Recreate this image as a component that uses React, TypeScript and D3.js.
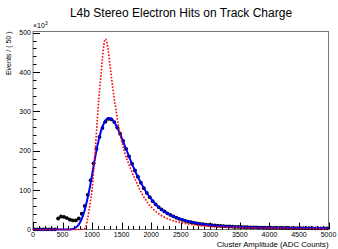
import React, { useRef, useEffect } from 'react';
import * as d3 from 'd3';

// histogram: 100 bins of 50 ADC counts, values in thousands of events
const binWidth = 50;
const counts = [
  0.5, 0.5, 0.5, 0.5, 0.5, 0.5, 0.5, 0.5,
  28, 33, 32, 29, 25, 23, 23, 28, 40, 60, 88, 125, 168, 205, 235, 258, 274, 281, 280, 273,
  259, 243, 225, 205, 186, 167, 150, 134, 119, 105, 93, 82, 72, 64, 57, 51, 46, 41, 37, 33.5,
  30, 27, 24.5, 22, 20, 18.5, 17, 15.5, 14.5, 13.5, 12.5, 11.5, 10.8, 10.1, 9.5, 9, 8.5, 8,
  7.6, 7.2, 6.9, 6.6, 6.3, 6, 5.8, 5.6, 5.4, 5.2, 5, 4.8, 4.7, 4.5, 4.4, 4.3, 4.2, 4.1,
  4, 3.9, 3.8, 3.7, 3.6, 3.5, 3.5, 3.4, 3.3, 3.3, 3.2, 3.1, 3.1, 3, 3, 2.9,
];

// blue fit (landau x gauss)
const fitX = [0, 600, 650, 700, 750, 800, 850, 900, 950, 1000, 1050, 1100, 1150, 1200, 1250, 1300, 1350, 1400, 1450, 1500, 1550, 1600, 1650, 1700, 1750, 1800, 1900, 2000, 2100, 2200, 2300, 2400, 2500, 2600, 2800, 3000, 3250, 3500, 4000, 4500, 5000];
const fitY = [0, 0, 0.5, 3, 8, 19, 37, 64, 98, 139, 182, 220, 250, 270, 281, 283, 278, 267, 251, 233, 214, 195, 176, 158, 141, 126, 99, 77, 60, 48, 39, 32, 26, 21.5, 15, 11, 8, 6.3, 4.4, 3.5, 2.9];

// red dotted curve (landau only)
const landauX = [0, 780, 860, 900, 925, 950, 975, 1000, 1025, 1050, 1075, 1100, 1125, 1150, 1175, 1200, 1225, 1250, 1275, 1300, 1325, 1350, 1375, 1400, 1450, 1500, 1550, 1600, 1650, 1700, 1750, 1800, 1850, 1900, 1950, 2000, 2100, 2200, 2300, 2400, 2500, 2600, 2800, 3000, 3500, 4000, 4500, 5000];
const landauY = [0, 0, 1, 10, 28, 50, 75, 102, 145, 195, 250, 305, 352, 392, 435, 470, 484, 476, 452, 420, 390, 360, 332, 307, 260, 225, 196, 174, 155, 137, 120, 103, 89, 77, 66, 57, 43, 33, 26, 21, 17.5, 14.5, 10.5, 8, 5, 3.5, 2.6, 2];

const xTicks = [0, 500, 1000, 1500, 2000, 2500, 3000, 3500, 4000, 4500, 5000];
const yTicks = [0, 100, 200, 300, 400, 500];

const App = () => {
  const svgRef = useRef<SVGSVGElement>(null);

  useEffect(() => {
    const width = 338;
    const height = 249;
    const left = 33;
    const right = 328.5;
    const top = 31.5;
    const bottom = 229.5;
    const font = '"Liberation Sans", Arial, sans-serif';

    const svg = d3.select(svgRef.current);
    svg.selectAll('*').remove();
    svg.attr('width', width).attr('height', height);

    svg.append('rect').attr('width', width).attr('height', height).attr('fill', '#fff');

    const x = d3.scaleLinear().domain([0, 5000]).range([left, right]);
    const y = d3.scaleLinear().domain([0, 503]).range([bottom, top]);

    // frame
    svg
      .append('rect')
      .attr('x', left)
      .attr('y', top)
      .attr('width', right - left)
      .attr('height', bottom - top)
      .attr('fill', 'none')
      .attr('stroke', '#777')
      .attr('stroke-width', 1);

    // ticks
    const g = svg.append('g').attr('stroke', '#000').attr('stroke-width', 1);
    d3.range(0, 5001, 100).forEach(v => {
      const major = v % 500 === 0;
      g.append('line')
        .attr('x1', Math.round(x(v)) + 0.5)
        .attr('x2', Math.round(x(v)) + 0.5)
        .attr('y1', bottom)
        .attr('y2', bottom - (major ? 7 : 3.5));
    });
    d3.range(0, 501, 20).forEach(v => {
      const major = v % 100 === 0;
      g.append('line')
        .attr('x1', left)
        .attr('x2', left + (major ? 7 : 3.5))
        .attr('y1', Math.round(y(v)) + 0.5)
        .attr('y2', Math.round(y(v)) + 0.5);
    });

    svg
      .append('g')
      .selectAll('text')
      .data(xTicks)
      .join('text')
      .attr('x', d => x(d))
      .attr('y', 236.5)
      .attr('text-anchor', 'middle')
      .style('font-family', font)
      .style('font-size', '7px')
      .text(d => d);

    svg
      .append('g')
      .selectAll('text')
      .data(yTicks)
      .join('text')
      .attr('x', left - 2)
      .attr('y', d => y(d) + 2.5)
      .attr('text-anchor', 'end')
      .style('font-family', font)
      .style('font-size', '7px')
      .text(d => d);

    const exp = svg
      .append('text')
      .attr('x', left)
      .attr('y', 28)
      .style('font-family', font)
      .style('font-size', '7px');
    exp.append('tspan').text('×10');
    exp.append('tspan').attr('dy', -3).style('font-size', '5px').text('3');

    svg
      .append('text')
      .attr('transform', `translate(11, ${top}) rotate(-90)`)
      .attr('text-anchor', 'end')
      .style('font-family', font)
      .style('font-size', '7px')
      .text('Events / ( 50 )');

    svg
      .append('text')
      .attr('x', right)
      .attr('y', 247)
      .attr('text-anchor', 'end')
      .style('font-family', font)
      .style('font-size', '7.8px')
      .text('Cluster Amplitude (ADC Counts)');

    svg
      .append('text')
      .attr('x', 181)
      .attr('y', 17)
      .attr('text-anchor', 'middle')
      .style('font-family', font)
      .style('font-size', '12px')
      .text('L4b Stereo Electron Hits on Track Charge');

    // data points with bin-width error bars
    const pts = counts.map((c, i) => ({ cx: binWidth * i + binWidth / 2, c }));
    svg
      .append('g')
      .selectAll('line')
      .data(pts)
      .join('line')
      .attr('x1', d => x(d.cx - binWidth / 2))
      .attr('x2', d => x(d.cx + binWidth / 2))
      .attr('y1', d => y(d.c))
      .attr('y2', d => y(d.c))
      .attr('stroke', '#000')
      .attr('stroke-width', 1);
    svg
      .append('g')
      .selectAll('circle')
      .data(pts)
      .join('circle')
      .attr('cx', d => x(d.cx))
      .attr('cy', d => y(d.c))
      .attr('r', 1.9)
      .attr('fill', '#000');

    const line = d3
      .line<number>()
      .curve(d3.curveMonotoneX);

    svg
      .append('path')
      .attr('d', line.x((_, i) => x(fitX[i])).y(d => y(d))(fitY))
      .attr('fill', 'none')
      .attr('stroke', '#0000ff')
      .attr('stroke-width', 2);

    svg
      .append('path')
      .attr('d', line.x((_, i) => x(landauX[i])).y(d => y(d))(landauY))
      .attr('fill', 'none')
      .attr('stroke', '#ff0000')
      .attr('stroke-width', 1.6)
      .attr('stroke-dasharray', '1.6,1.6');
  }, []);

  return <svg ref={svgRef} style={{ position: 'absolute', left: 0, top: 0 }}></svg>;
};

export default App;
